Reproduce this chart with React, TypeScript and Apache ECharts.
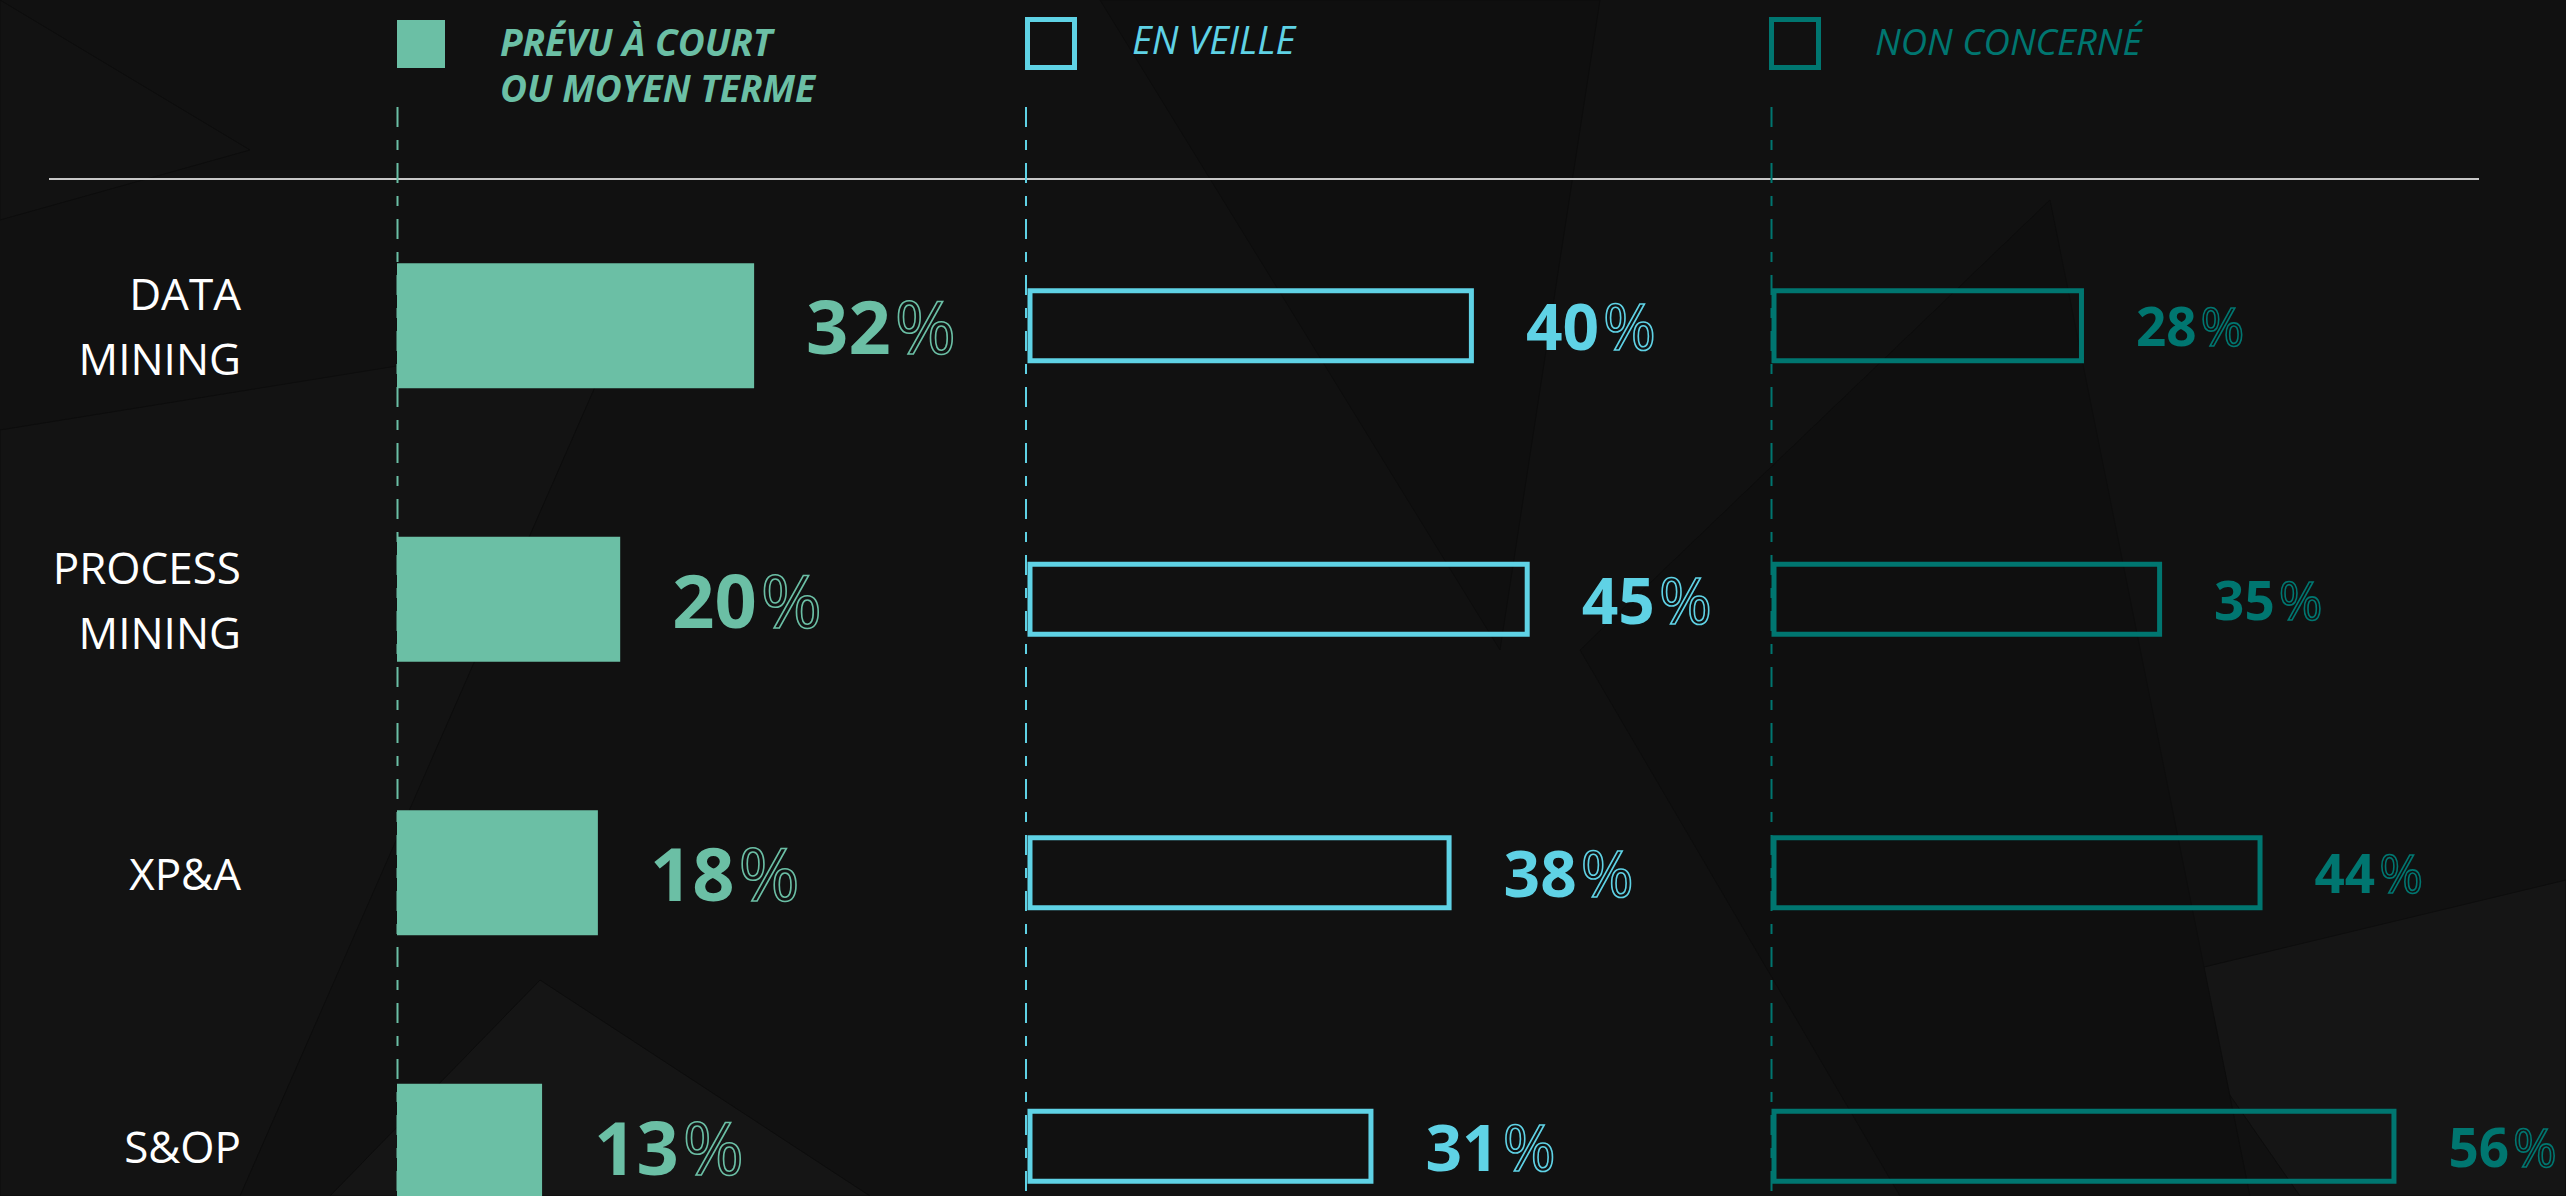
import React, { useEffect, useRef } from "react";
import * as echarts from "echarts";

const categories = ["DATA\nMINING", "PROCESS\nMINING", "XP&A", "S&OP"];
const prevuValues = [32, 20, 18, 13];
const veilleValues = [40, 45, 38, 31];
const nonConcerneValues = [28, 35, 44, 56];
const seriesNames = ["PRÉVU À COURT", "EN VEILLE", "NON CONCERNÉ"];
const legendSecondLine = "OU MOYEN TERME";
const colors = ["#6bbfa5", "#5fd2e5", "#007670"];

const FONT = "Open Sans";

function valueLabel(color: string, size: number, distance: number) {
  return {
    show: true,
    position: "right",
    distance,
    formatter: "{n|{c}}{p|%}",
    rich: {
      n: { fontFamily: FONT, fontWeight: "bold", fontSize: size, color },
      p: {
        fontFamily: FONT,
        fontWeight: "normal",
        fontSize: size,
        color: "rgba(0,0,0,0)",
        textBorderColor: color,
        textBorderWidth: 1.6,
        padding: [0, 0, 0, 4],
      },
    },
  };
}

const bgPolys: [number, number][][] = [
  [[0, 430], [620, 330], [240, 1196], [0, 1196]],
  [[540, 980], [870, 1196], [330, 1196]],
  [[2150, 980], [2566, 880], [2566, 1196], [2300, 1196]],
  [[1100, 0], [1600, 0], [1500, 650]],
  [[1580, 650], [2050, 200], [2250, 1196], [1900, 1196]],
  [[0, 0], [250, 150], [0, 220]],
];
const bgFills = ["#131313", "#151515", "#151515", "#0f0f0f", "#0f0f0f", "#121212"];

export default function App() {
  const ref = useRef<HTMLDivElement>(null);
  useEffect(() => {
    if (!ref.current) return;
    const chart = echarts.init(ref.current, null, { renderer: "svg" });
    const gridTop = 189;
    const gridHeight = 1094;
    const lefts = [397, 1027.5, 1771.5];
    const option: any = {
      animation: false,
      backgroundColor: "#111111",
      grid: lefts.map((l) => ({
        left: l,
        top: gridTop,
        width: 669.6,
        height: gridHeight,
        outerBoundsMode: "none",
        containLabel: false,
      })),
      xAxis: lefts.map((_, i) => ({
        type: "value",
        gridIndex: i,
        min: 0,
        max: 60,
        show: false,
      })),
      yAxis: lefts.map((_, i) => ({
        type: "category",
        gridIndex: i,
        data: categories,
        inverse: true,
        show: i === 0,
        axisLine: { show: false },
        axisTick: { show: false },
        splitLine: { show: false },
        axisLabel: {
          show: i === 0,
          margin: 156,
          color: "#ffffff",
          fontFamily: FONT,
          fontSize: 44,
          lineHeight: 65,
          align: "right",
        },
      })),
      series: [
        {
          type: "bar",
          name: seriesNames[0],
          xAxisIndex: 0,
          yAxisIndex: 0,
          data: prevuValues,
          barWidth: 125,
          itemStyle: { color: colors[0] },
          label: valueLabel(colors[0], 74, 52),
          z: 3,
        },
        {
          type: "bar",
          name: seriesNames[1],
          xAxisIndex: 1,
          yAxisIndex: 1,
          data: veilleValues,
          barWidth: 75,
          itemStyle: { color: "rgba(0,0,0,0)", borderColor: colors[1], borderWidth: 5 },
          label: valueLabel(colors[1], 64, 52),
          z: 3,
        },
        {
          type: "bar",
          name: seriesNames[2],
          xAxisIndex: 2,
          yAxisIndex: 2,
          data: nonConcerneValues,
          barWidth: 75,
          itemStyle: { color: "rgba(0,0,0,0)", borderColor: colors[2], borderWidth: 5 },
          label: valueLabel(colors[2], 53, 52),
          z: 3,
        },
      ],
      graphic: [
        ...bgPolys.map((pts, i) => ({
          type: "polygon",
          z: -10,
          silent: true,
          shape: { points: pts },
          style: { fill: bgFills[i], stroke: "#0d0d0d", lineWidth: 1 },
        })),
        {
          type: "line",
          z: 1,
          shape: { x1: 49, y1: 179, x2: 2479, y2: 179 },
          style: { stroke: "#c8c8c8", lineWidth: 2 },
        },
        ...[397.5, 1026, 1771.5].map((x, i) => ({
          type: "line",
          z: 1,
          shape: { x1: x, y1: 107, x2: x, y2: 1196 },
          style: { stroke: colors[i], lineWidth: 2, lineDash: [20, 13, 10, 13] },
        })),
        {
          type: "rect",
          z: 2,
          shape: { x: 397, y: 20, width: 48, height: 48 },
          style: { fill: colors[0] },
        },
        {
          type: "text",
          z: 2,
          x: 500,
          y: 41.5,
          style: {
            text: seriesNames[0],
            fill: colors[0],
            fontFamily: FONT,
            fontStyle: "italic",
            fontWeight: "bold",
            fontSize: 37,
            verticalAlign: "middle",
            align: "left",
          },
        },
        {
          type: "text",
          z: 2,
          x: 500,
          y: 87.5,
          style: {
            text: legendSecondLine,
            fill: colors[0],
            fontFamily: FONT,
            fontStyle: "italic",
            fontWeight: "bold",
            fontSize: 37,
            verticalAlign: "middle",
            align: "left",
          },
        },
        {
          type: "rect",
          z: 2,
          shape: { x: 1027.5, y: 19.5, width: 47, height: 48 },
          style: { fill: "rgba(0,0,0,0)", stroke: colors[1], lineWidth: 5 },
        },
        {
          type: "text",
          z: 2,
          x: 1132,
          y: 38.5,
          style: {
            text: seriesNames[1],
            fill: colors[1],
            fontFamily: FONT,
            fontStyle: "italic",
            fontSize: 38,
            verticalAlign: "middle",
            align: "left",
          },
        },
        {
          type: "rect",
          z: 2,
          shape: { x: 1771.5, y: 19.5, width: 47, height: 48 },
          style: { fill: "rgba(0,0,0,0)", stroke: colors[2], lineWidth: 5 },
        },
        {
          type: "text",
          z: 2,
          x: 1875,
          y: 41,
          style: {
            text: seriesNames[2],
            fill: colors[2],
            fontFamily: FONT,
            fontStyle: "italic",
            fontSize: 36.5,
            verticalAlign: "middle",
            align: "left",
          },
        },
      ],
    };
    chart.setOption(option);
    return () => chart.dispose();
  }, []);
  return (
    <div
      ref={ref}
      style={{ position: "absolute", left: 0, top: 0, width: 2566, height: 1196 }}
    />
  );
}
